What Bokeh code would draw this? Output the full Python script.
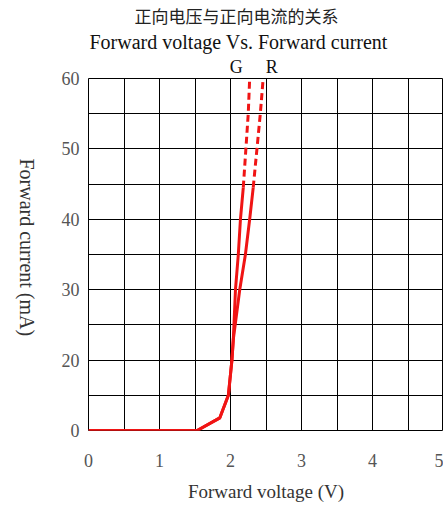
import math
from bokeh.plotting import figure
from bokeh.models import FixedTicker, LinearAxis, Range1d, Title
from bokeh.embed import file_html
from bokeh.resources import INLINE

# ---- data (y in the chart's own grid units; bottom gridline is labelled "0") ----
v_common = [0.0, 1.53, 1.85, 1.97, 2.02, 2.04]
i_common = [10.0, 10.0, 11.8, 15.0, 20.0, 23.0]
g_solid_v = v_common + [2.07, 2.11, 2.14, 2.18]
g_solid_i = i_common + [30.0, 35.0, 40.0, 44.5]
g_dash_v = [2.18, 2.25, 2.27]
g_dash_i = [44.5, 55.0, 60.0]
r_solid_v = v_common + [2.13, 2.21, 2.27, 2.32]
r_solid_i = i_common + [30.0, 35.0, 40.0, 44.5]
r_dash_v = [2.32, 2.42, 2.46]
r_dash_i = [44.5, 55.0, 60.0]

x_ticks = [0, 0.5, 1, 1.5, 2, 2.5, 3, 3.5, 4, 4.5, 5]
x_labels = {0: "0", 1: "1", 2: "2", 3: "3", 4: "4", 5: "5"}
y_ticks = [10, 15, 20, 25, 30, 35, 40, 45, 50, 55, 60]
y_labels = {10: "0", 20: "20", 30: "30", 40: "40", 50: "50", 60: "60"}

series_names = ["G", "R"]
series_name_x = [2.08, 2.58]

title_cn = "正向电压与正向电流的关系"
title_en = "Forward voltage Vs. Forward current"
x_title = "Forward voltage (V)"
y_title = "Forward current (mA)"
y_title_at = 23.4

RED = "#f01414"
SERIF = "Liberation Serif"

W, H = 443, 506
p = figure(width=W, height=H, output_backend="svg", toolbar_location=None, title=None,
           x_range=Range1d(0, 5), y_range=Range1d(10, 60),
           min_border_left=88, min_border_right=0, min_border_top=76,
           min_border_bottom=76)
p.background_fill_color = "white"
p.border_fill_color = "white"
p.outline_line_color = "black"
p.outline_line_width = 1

# grids
p.xgrid.ticker = FixedTicker(ticks=x_ticks)
p.ygrid.ticker = FixedTicker(ticks=y_ticks)
for g in (p.xgrid, p.ygrid):
    g.grid_line_color = "black"
    g.grid_line_alpha = 1.0
    g.grid_line_width = 1


def plain(ax):
    ax.major_tick_out = 0
    ax.major_tick_in = 0
    ax.minor_tick_out = 0
    ax.minor_tick_in = 0
    ax.axis_line_color = None


# x axis
xa = p.xaxis[0]
plain(xa)
xa.ticker = FixedTicker(ticks=x_ticks)
xa.major_label_overrides = {t: x_labels.get(t, "") for t in x_ticks}
xa.major_label_standoff = 23
xa.major_label_text_font = SERIF
xa.major_label_text_font_size = "18px"
xa.major_label_text_color = "#555555"
xa.axis_label = x_title
xa.axis_label_text_font = SERIF
xa.axis_label_text_font_size = "19px"
xa.axis_label_text_font_style = "normal"
xa.axis_label_text_color = "#333333"
xa.axis_label_standoff = 11

# y axis
ya = p.yaxis[0]
plain(ya)
ya.ticker = FixedTicker(ticks=y_ticks)
ya.major_label_overrides = {t: y_labels.get(t, "") for t in y_ticks}
ya.major_label_standoff = 9
ya.major_label_text_font = SERIF
ya.major_label_text_font_size = "18px"
ya.major_label_text_color = "#555555"

# y title, read top-to-bottom (outer left axis carrying a single label)
yt = LinearAxis(ticker=FixedTicker(ticks=[y_title_at]),
                major_label_overrides={y_title_at: y_title},
                major_label_orientation=-math.pi / 2)
plain(yt)
yt.major_label_standoff = 32
yt.major_label_text_font = SERIF
yt.major_label_text_font_size = "20px"
yt.major_label_text_color = "#333333"
p.add_layout(yt, "left")

# series names above the frame
na = LinearAxis(ticker=FixedTicker(ticks=series_name_x),
                major_label_overrides=dict(zip(series_name_x, series_names)))
plain(na)
na.major_label_standoff = 2
na.major_label_text_font = SERIF
na.major_label_text_font_size = "18px"
na.major_label_text_color = "#111111"
p.add_layout(na, "above")

# titles
p.add_layout(Title(text=title_en, align="left", offset=1, standoff=2,
                   text_font=SERIF, text_font_size="20px", text_font_style="normal",
                   text_color="#111111"), "above")
p.add_layout(Title(text=title_cn, align="left", offset=46, standoff=0,
                   text_font="Noto Sans CJK SC", text_font_size="17px",
                   text_font_style="normal", text_color="#222222"), "above")

# curves
p.line(g_solid_v, g_solid_i, line_color=RED, line_width=3)
p.line(r_solid_v, r_solid_i, line_color=RED, line_width=3)
p.line(g_dash_v, g_dash_i, line_color=RED, line_width=3, line_dash="7 4")
p.line(r_dash_v, r_dash_i, line_color=RED, line_width=3, line_dash="7 4")

open("out.html", "w").write(file_html(p, INLINE))
